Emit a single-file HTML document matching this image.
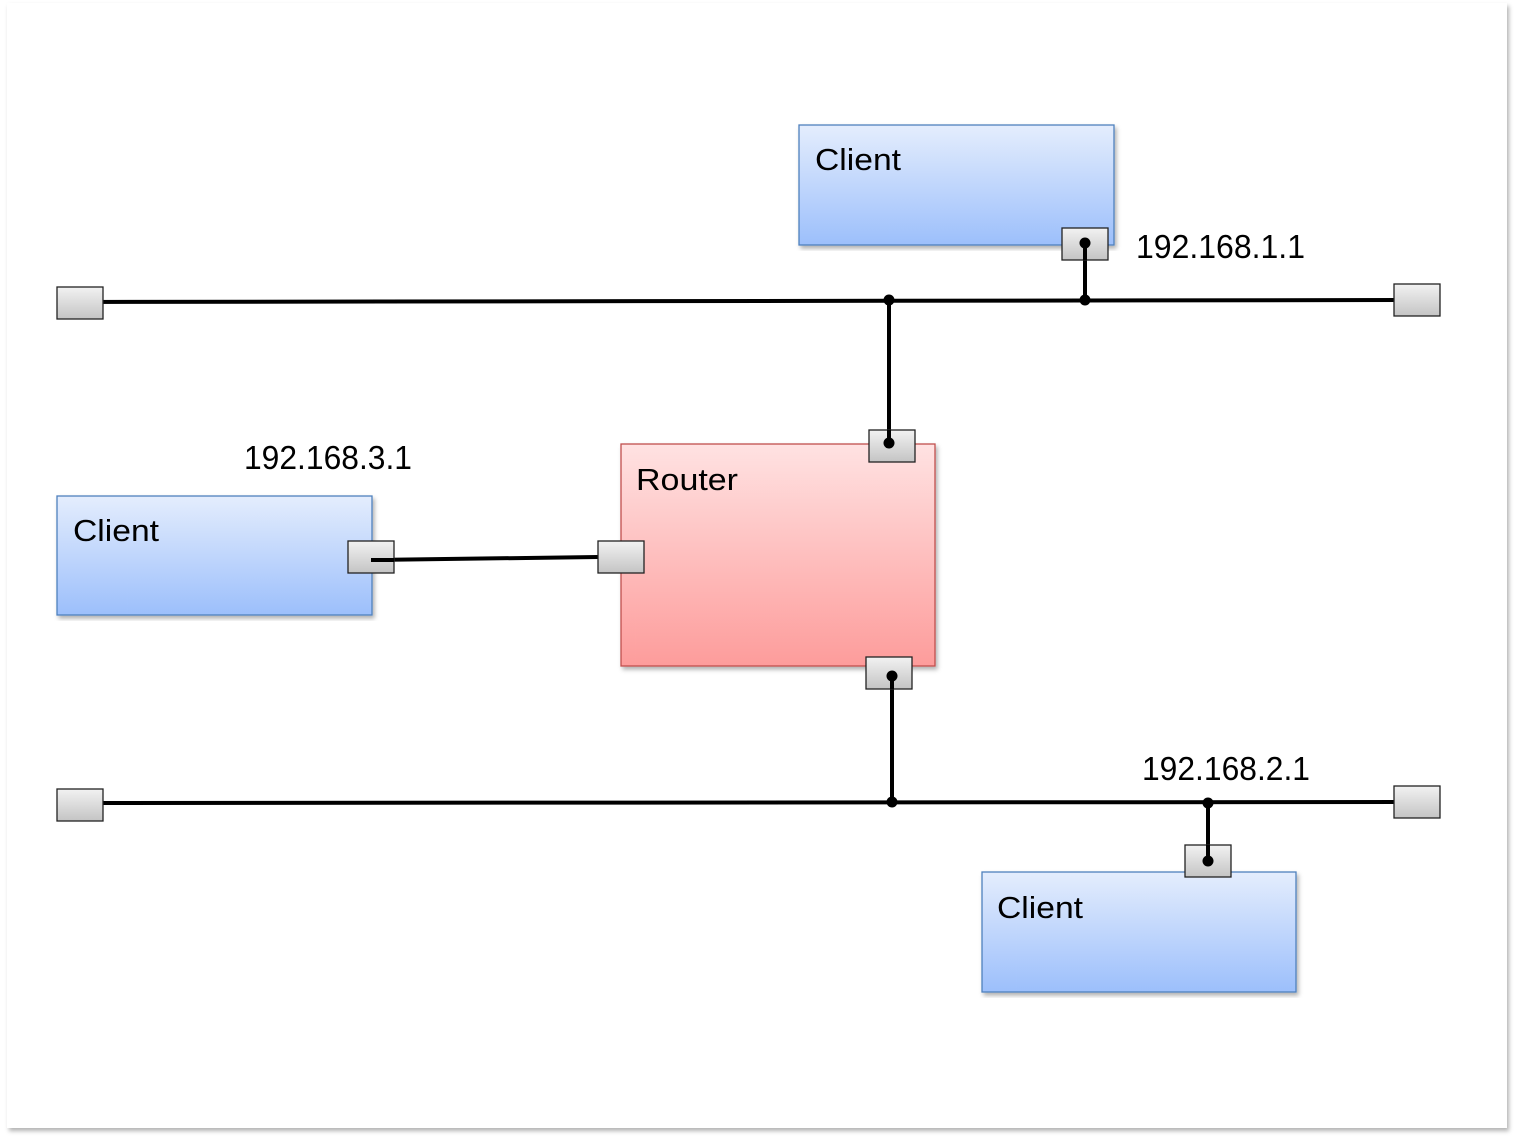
<!DOCTYPE html>
<html><head><meta charset="utf-8"><style>
html,body{margin:0;padding:0;background:#fff;}
svg{display:block;}
</style></head><body>
<svg width="1514" height="1139" viewBox="0 0 1514 1139" xmlns="http://www.w3.org/2000/svg">
<defs>
<linearGradient id="blue" x1="0" y1="0" x2="0" y2="1"><stop offset="0" stop-color="#e4edfd"/><stop offset="1" stop-color="#9cbffb"/></linearGradient>
<linearGradient id="red" x1="0" y1="0" x2="0" y2="1"><stop offset="0" stop-color="#ffe2e2"/><stop offset="1" stop-color="#fd9c9b"/></linearGradient>
<linearGradient id="gray" x1="0" y1="0" x2="0" y2="1"><stop offset="0" stop-color="#f2f2f2"/><stop offset="1" stop-color="#c4c4c4"/></linearGradient>
<filter id="sh" x="-5%" y="-5%" width="110%" height="110%"><feDropShadow dx="2" dy="3" stdDeviation="2" flood-color="#000" flood-opacity="0.3"/></filter>
</defs>
<rect x="7" y="3" width="1500" height="1125" fill="#fff" filter="url(#sh)"/>
<g font-family="'Liberation Sans', 'DejaVu Sans', sans-serif" font-size="31" fill="#000">
<rect x="799" y="125" width="315" height="120" fill="url(#blue)" stroke="#4f81bd" stroke-width="1.3" filter="url(#sh)"/>
<text x="815" y="170" textLength="86" lengthAdjust="spacingAndGlyphs">Client</text>
<rect x="57" y="496" width="315" height="119" fill="url(#blue)" stroke="#4f81bd" stroke-width="1.3" filter="url(#sh)"/>
<text x="73" y="541" textLength="86" lengthAdjust="spacingAndGlyphs">Client</text>
<rect x="982" y="872" width="314" height="120" fill="url(#blue)" stroke="#4f81bd" stroke-width="1.3" filter="url(#sh)"/>
<text x="997" y="918" textLength="86" lengthAdjust="spacingAndGlyphs">Client</text>
<rect x="621" y="444" width="314" height="222" fill="url(#red)" stroke="#c0504d" stroke-width="1.3" filter="url(#sh)"/>
<text x="636" y="490" textLength="102" lengthAdjust="spacingAndGlyphs">Router</text>
</g>
<g stroke="#000" stroke-width="4" fill="none">
<line x1="80" y1="302" x2="1416" y2="300"/>
<line x1="80" y1="803" x2="1416" y2="802"/>
<line x1="889" y1="300" x2="889" y2="443"/>
<line x1="1085" y1="243" x2="1085" y2="300"/>
<line x1="892" y1="676" x2="892" y2="802"/>
<line x1="1208" y1="803" x2="1208" y2="861"/>
<line x1="371" y1="560" x2="598" y2="557"/>
</g>
<g fill="url(#gray)" stroke="#222" stroke-width="1.3">
<rect x="57" y="287" width="46" height="32"/>
<rect x="1394" y="284" width="46" height="32"/>
<rect x="57" y="789" width="46" height="32"/>
<rect x="1394" y="786" width="46" height="32"/>
<rect x="1062" y="228" width="46" height="32"/>
<rect x="869" y="430" width="46" height="32"/>
<rect x="598" y="541" width="46" height="32"/>
<rect x="866" y="657" width="46" height="32"/>
<rect x="348" y="541" width="46" height="32"/>
<rect x="1185" y="845" width="46" height="32"/>
</g>
<g stroke="#000" stroke-width="4">
<line x1="1085" y1="243" x2="1085" y2="260"/>
<line x1="889" y1="430" x2="889" y2="443"/>
<line x1="892" y1="676" x2="892" y2="689"/>
<line x1="1208" y1="845" x2="1208" y2="861"/>
<line x1="371" y1="560" x2="394" y2="560"/>
</g>
<g fill="#000">
<circle cx="1085" cy="243" r="5.5"/>
<circle cx="1085" cy="300" r="5.5"/>
<circle cx="889" cy="300" r="5.5"/>
<circle cx="889" cy="443" r="5.5"/>
<circle cx="892" cy="676" r="5.5"/>
<circle cx="892" cy="802" r="5.5"/>
<circle cx="1208" cy="803" r="5.5"/>
<circle cx="1208" cy="861" r="5.5"/>
</g>
<g font-family="'Liberation Sans Narrow', 'Liberation Sans', sans-serif" font-size="33" fill="#000">
<text x="1136" y="258" textLength="169" lengthAdjust="spacingAndGlyphs">192.168.1.1</text>
<text x="244" y="469" textLength="168" lengthAdjust="spacingAndGlyphs">192.168.3.1</text>
<text x="1142" y="780" textLength="168" lengthAdjust="spacingAndGlyphs">192.168.2.1</text>
</g>
</svg>
</body></html>
